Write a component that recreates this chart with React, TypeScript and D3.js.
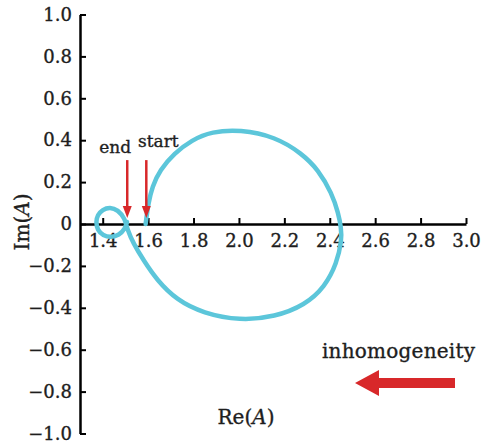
import React, { useEffect, useRef } from 'react'
import * as d3 from 'd3'

// trajectory of A in the complex plane (Re, Im)
const reValues = [
  1.589, 1.601, 1.618, 1.652, 1.715, 1.792, 1.88, 2.005, 2.159, 2.277, 2.35, 2.409, 2.438,
  2.45, 2.453, 2.431, 2.379, 2.291, 2.159, 2.005, 1.843, 1.726, 1.638, 1.579, 1.535, 1.509,
  1.498, 1.467, 1.432, 1.399, 1.377, 1.37, 1.377, 1.401, 1.437, 1.472, 1.498, 1.507,
]
const imValues = [
  0, 0.1, 0.178, 0.258, 0.337, 0.401, 0.441, 0.451, 0.417, 0.337, 0.258, 0.147, 0.051,
  -0.019, -0.076, -0.188, -0.299, -0.387, -0.443, -0.461, -0.426, -0.363, -0.267, -0.172, -0.092, -0.029,
  0.027, 0.067, 0.081, 0.069, 0.043, 0.01, -0.029, -0.055, -0.064, -0.053, -0.024, 0.01,
]
const xTicks = [1.4, 1.6, 1.8, 2.0, 2.2, 2.4, 2.6, 2.8, 3.0]
const yTicks = [1.0, 0.8, 0.6, 0.4, 0.2, 0, -0.2, -0.4, -0.6, -0.8, -1.0]
const markerLabels = ['end', 'start']
const markerRe = [1.508, 1.592]

const W = 482
const H = 445
const FONT = 'DejaVu Serif, serif'
const INK = '#1e1e1e'
const CURVE = '#5cc6da'
const RED = '#d8282a'

export default function App() {
  const svgRef = useRef<SVGSVGElement>(null)

  useEffect(() => {
    if (!svgRef.current) return
    const svg = d3.select(svgRef.current)
    svg.selectAll('*').remove()

    const x = d3.scaleLinear().domain([1.3, 3.0]).range([80, 466])
    const y = d3.scaleLinear().domain([-1, 1]).range([433.5, 14.5])

    const fmtY = (d: number) => (d === 0 ? '0' : d3.format('.1f')(d))

    const styleText = (sel: any, size: number) =>
      sel.style('font-family', FONT).style('font-size', `${size}px`)
        .attr('fill', INK).attr('stroke', INK).attr('stroke-width', 0.35)

    const yAxis = svg
      .append('g')
      .attr('transform', `translate(${x(1.3)},0)`)
      .call(
        d3.axisLeft(y).tickValues(yTicks).tickFormat(fmtY as any)
          .tickSizeInner(-6).tickSizeOuter(0).tickPadding(8)
      )
    yAxis.select('.domain').attr('stroke-width', 2.5)
    yAxis.selectAll('.tick line').attr('stroke-width', 2)
    styleText(yAxis.selectAll('text'), 18)

    const xAxis = svg
      .append('g')
      .attr('transform', `translate(0,${y(0)})`)
      .call(
        d3.axisBottom(x).tickValues(xTicks).tickFormat(d3.format('.1f') as any)
          .tickSizeInner(-6).tickSizeOuter(0).tickPadding(10)
      )
    xAxis.select('.domain').attr('stroke-width', 2.5)
    xAxis.selectAll('.tick line').attr('stroke-width', 2)
    styleText(xAxis.selectAll('text'), 18)

    // axis titles
    const im = svg.append('text')
      .attr('transform', `translate(29,${y(0) - 2}) rotate(-90)`)
      .attr('text-anchor', 'middle')
    styleText(im, 20)
    im.append('tspan').text('Im(')
    im.append('tspan').attr('font-style', 'italic').text('A')
    im.append('tspan').text(')')

    const re = svg.append('text')
      .attr('x', 246).attr('y', 424)
      .attr('text-anchor', 'middle')
    styleText(re, 20)
    re.append('tspan').text('Re(')
    re.append('tspan').attr('font-style', 'italic').text('A')
    re.append('tspan').text(')')

    // trajectory
    const pts = reValues.map((r, i) => [r, imValues[i]] as [number, number])
    const line = d3.line<[number, number]>()
      .x(d => x(d[0]))
      .y(d => y(d[1]))
      .curve(d3.curveBasis)
    svg.append('path')
      .attr('d', line(pts))
      .attr('fill', 'none')
      .attr('stroke', CURVE)
      .attr('stroke-width', 4.5)
      .attr('stroke-linecap', 'round')

    // start / end markers
    markerRe.forEach((r, i) => {
      const px = x(r)
      const top = y(0.305)
      const tip = y(0) - 6
      svg.append('line')
        .attr('x1', px).attr('x2', px)
        .attr('y1', top).attr('y2', tip - 10)
        .attr('stroke', RED).attr('stroke-width', 2.5)
      svg.append('path')
        .attr('d', `M${px - 4.5},${tip - 12} L${px + 4.5},${tip - 12} L${px},${tip} Z`)
        .attr('fill', RED)
      const t = svg.append('text')
        .attr('x', i === 0 ? px - 12 : px + 12)
        .attr('y', i === 0 ? 153 : 147)
        .attr('text-anchor', 'middle')
        .text(markerLabels[i])
      styleText(t, 17)
    })

    // inhomogeneity annotation
    const ih = svg.append('text')
      .attr('x', 322).attr('y', 358)
      .attr('textLength', 153)
      .text('inhomogeneity')
    styleText(ih, 20)
    svg.append('path')
      .attr('d', 'M355,383 L379,370 L379,378 L455,378 L455,388 L379,388 L379,396 Z')
      .attr('fill', RED)
  }, [])

  return (
    <svg
      ref={svgRef}
      width={W}
      height={H}
      style={{ position: 'absolute', left: 0, top: 0, background: '#fff' }}
    />
  )
}
